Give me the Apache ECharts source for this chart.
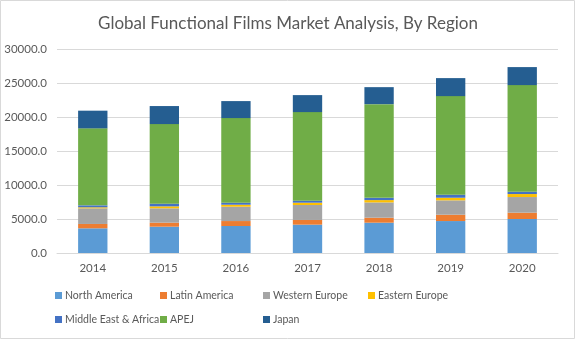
<!DOCTYPE html>
<html><head><meta charset="utf-8">
<script src="https://cdn.jsdelivr.net/npm/echarts@6/dist/echarts.min.js"></script>
<style>html,body{margin:0;padding:0;background:#fff}#c{width:576px;height:340px}</style>
</head><body><div id="c"></div>
<script>
const categories = ['2014','2015','2016','2017','2018','2019','2020'];
const seriesNames = ['North America','Latin America','Western Europe','Eastern Europe','Middle East & Africa','APEJ','Japan'];
const northAmerica = [3630, 3870, 3970, 4170, 4460, 4700, 5000];
const latinAmerica = [640, 590, 730, 690, 730, 930, 930];
const westernEurope = [2300, 2110, 2110, 2200, 2250, 2110, 2300];
const easternEurope = [150, 290, 290, 340, 340, 390, 440];
const middleEastAfrica = [290, 390, 290, 290, 340, 440, 340];
const apej = [11320, 11710, 12450, 13030, 13770, 14500, 15680];
const japan = [2600, 2650, 2500, 2500, 2500, 2650, 2650];
const yTicks = [0, 5000, 10000, 15000, 20000, 25000, 30000];

const values = [northAmerica, latinAmerica, westernEurope, easternEurope, middleEastAfrica, apej, japan];
const colors = ['#5B9BD5','#ED7D31','#A5A5A5','#FFC000','#4472C4','#70AD47','#255E91'];
const legendPos = [[55,290],[160,290],[263,290],[368,290],[55,314],[160,314],[263,314]];
const FONT = 'Lato';

const chart = echarts.init(document.getElementById('c'), null, {renderer:'canvas'});
chart.setOption({
  animation: false,
  color: colors,
  title: {
    text: 'Global Functional Films Market Analysis, By Region',
    left: 'center', top: 10,
    textStyle: {fontFamily: FONT, fontSize: 17, fontWeight: 'normal', color: '#595959'}
  },
  legend: seriesNames.map((n, i) => ({
    data: [n], left: legendPos[i][0], top: legendPos[i][1],
    itemWidth: 7, itemHeight: 7, itemGap: 4, icon: 'rect', padding: 0,
    textStyle: {fontFamily: FONT, fontSize: 10.5, color: '#595959', padding: [0,0,0,-2]}
  })),
  grid: {left: 57, right: 18, top: 49, bottom: 87},
  xAxis: {
    type: 'category', data: categories,
    axisLine: {lineStyle: {color: '#d9d9d9'}},
    axisTick: {show: false},
    axisLabel: {color: '#595959', fontFamily: FONT, fontSize: 11.5, margin: 9}
  },
  yAxis: {
    type: 'value', min: yTicks[0], max: yTicks[yTicks.length-1], interval: yTicks[1]-yTicks[0],
    axisLine: {show: false}, axisTick: {show: false},
    splitLine: {lineStyle: {color: '#d9d9d9'}},
    axisLabel: {color: '#595959', fontFamily: FONT, fontSize: 11.5, margin: 10,
      formatter: v => v.toFixed(1)}
  },
  graphic: [{type:'rect', shape:{x:0.5,y:0.5,width:574,height:338}, style:{fill:'none', stroke:'#d9d9d9', lineWidth:1}, silent:true}],
  series: seriesNames.map((n, i) => ({
    name: n, type: 'bar', stack: 'total', data: values[i],
    barCategoryGap: '59%',
    itemStyle: {color: colors[i]}
  }))
});
</script></body></html>
